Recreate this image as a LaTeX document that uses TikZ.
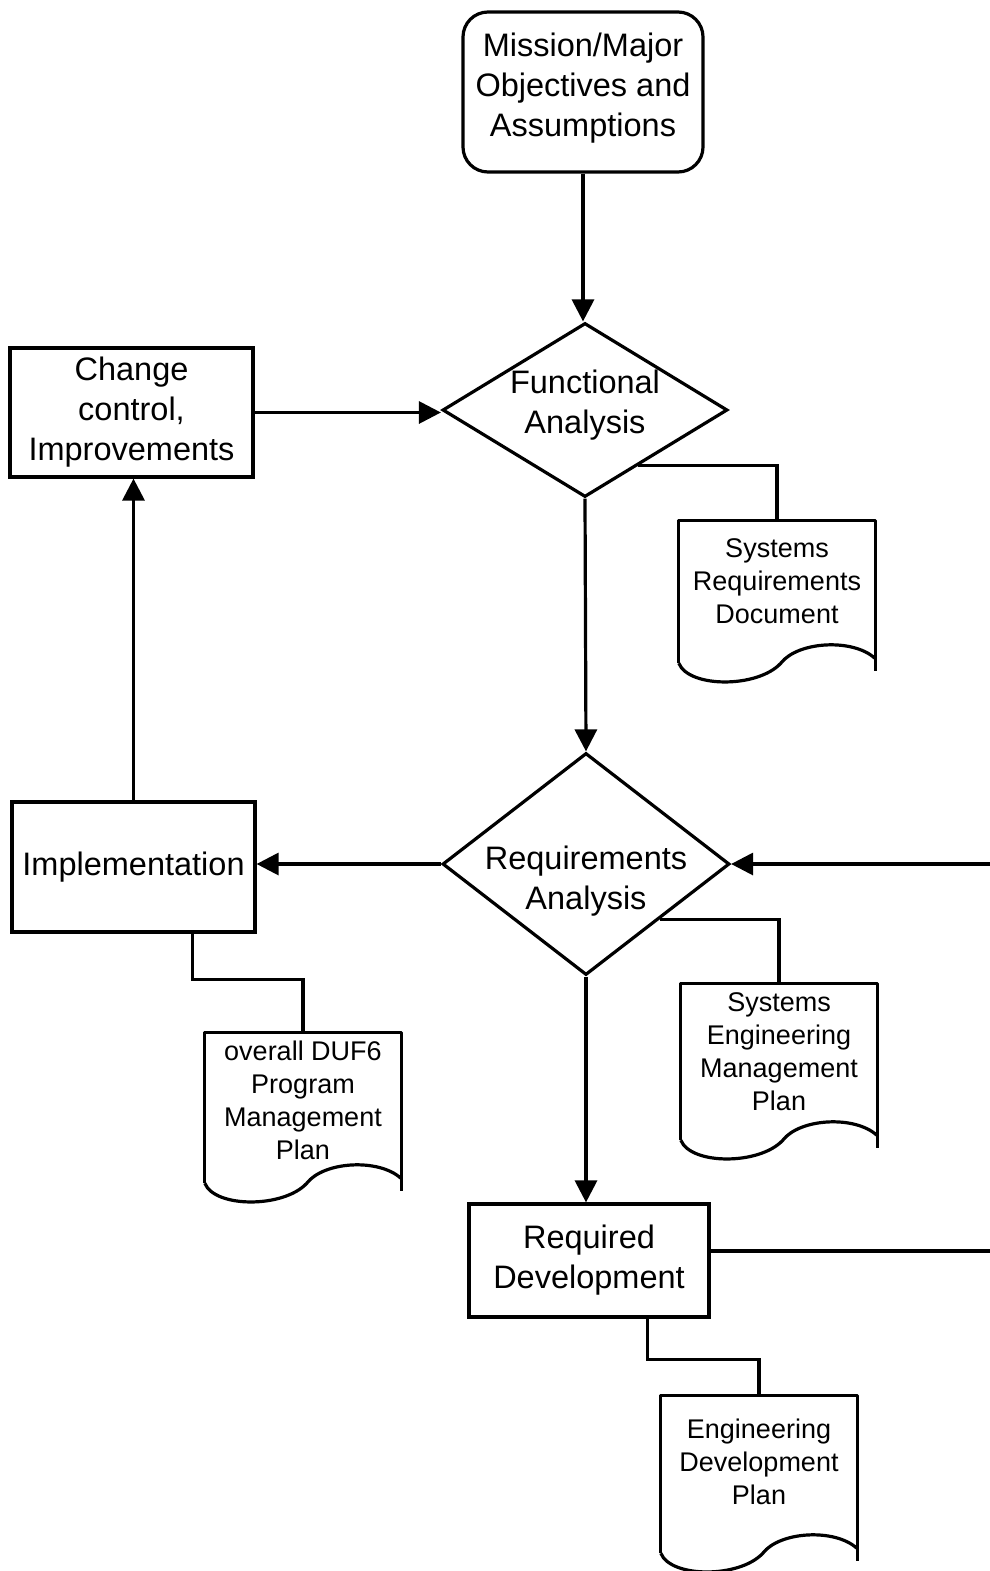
\documentclass[tikz,border=0pt]{standalone}
\usepackage{fontspec}
\setmainfont{Liberation Sans}
\usetikzlibrary{arrows.meta,shapes.geometric,calc}
\tikzset{
 ln/.style={line width=3.2pt},
 arr/.style={ln,-{Triangle[length=22pt,width=22pt]}},
 bigtext/.style={font=\fontsize{32.5}{40}\selectfont, align=center},
 smalltext/.style={font=\fontsize{27}{33}\selectfont, align=center},
 box/.style={draw, ln, rectangle, bigtext, inner sep=0pt},
 rbox/.style={box, rounded corners=25pt},
 dia/.style={draw, ln, diamond, inner sep=0pt},
 docbox/.style={rectangle, inner sep=0pt, minimum width=196pt},
}
\newcommand\DocOutline[1]{%
 \draw[ln, line join=round] (#1.south west) -- (#1.north west) -- (#1.north east) -- ($(#1.south east)+(0,8)$);
 \draw[ln] (#1.south west) .. controls +(10,25) and +(-23,25) .. ++(102,0) .. controls +(17,-22) and +(-22,-20) .. ++(94,-5);
}
\begin{document}
\begin{tikzpicture}[x=1pt,y=-1pt]
\path[use as bounding box] (0,0) rectangle (990,1571);

\node[draw, ln, rectangle, rounded corners=25pt, inner sep=0pt, minimum width=240pt, minimum height=160pt,
      label={[bigtext, yshift=4pt]center:Mission/Major\\Objectives and\\Assumptions}] (mo) at (583,92) {};
\node[dia, minimum width=285pt, minimum height=174pt,
      label={[bigtext, yshift=5pt]center:Functional\\Analysis}] (fa) at (585,410) {};
\node[box, minimum width=243pt, minimum height=129pt] (cc) at (131.5,412.5) {Change\\control,\\Improvements};
\node[dia, minimum width=287pt, minimum height=222pt,
      label={[bigtext, yshift=-17pt]center:Requirements\\Analysis}] (ra) at (586,864) {};
\node[box, minimum width=243pt, minimum height=130pt] (impl) at (133.5,867) {Implementation};
\node[box, minimum width=240pt, minimum height=113pt] (rd) at (589,1260.5) {Required\\Development};

\node[docbox, minimum height=142pt,
      label={[smalltext, yshift=11pt]center:Systems\\Requirements\\Document}] (srd) at (777,592) {};
\node[docbox, minimum height=156pt,
      label={[smalltext, yshift=10pt]center:Systems\\Engineering\\Management\\Plan}] (semp) at (779,1062) {};
\node[docbox, minimum height=150pt,
      label={[smalltext, yshift=8pt]center:overall DUF6\\Program\\Management\\Plan}] (duf) at (303,1108) {};
\node[docbox, minimum height=157pt,
      label={[smalltext, yshift=13pt]center:Engineering\\Development\\Plan}] (edp) at (759,1474.5) {};
\DocOutline{srd}
\DocOutline{semp}
\DocOutline{duf}
\DocOutline{edp}

\coordinate (rin) at (990,864);
\coordinate (rout) at (990,1251);

\draw[arr] (mo.south) -- (mo.south |- fa.north);
\draw[arr] (cc.east) -- (cc.east -| fa.west);
\draw[arr] (impl.north) -- (impl.north |- cc.south);
\draw[arr] (fa.south) -- (ra.north);
\draw[arr] (rin) -- (ra.east);
\draw[arr] (ra.west) -- (ra.west -| impl.east);
\draw[arr] (ra.south) -- (ra.south |- rd.north);
\draw[ln] (rout -| rd.east) -- (rout);

\draw[ln] ($(fa.east)!0.63!(fa.south)$) -| (srd.north);
\draw[ln] ($(ra.east)!0.49!(ra.south)$) -| (semp.north);
\draw[ln] ($(impl.south west)!0.74!(impl.south east)$) -- ++(0,46) -| (duf.north);
\draw[ln] ($(rd.south west)!0.74!(rd.south east)$) -- ++(0,41) -| (edp.north);
\end{tikzpicture}
\end{document}
